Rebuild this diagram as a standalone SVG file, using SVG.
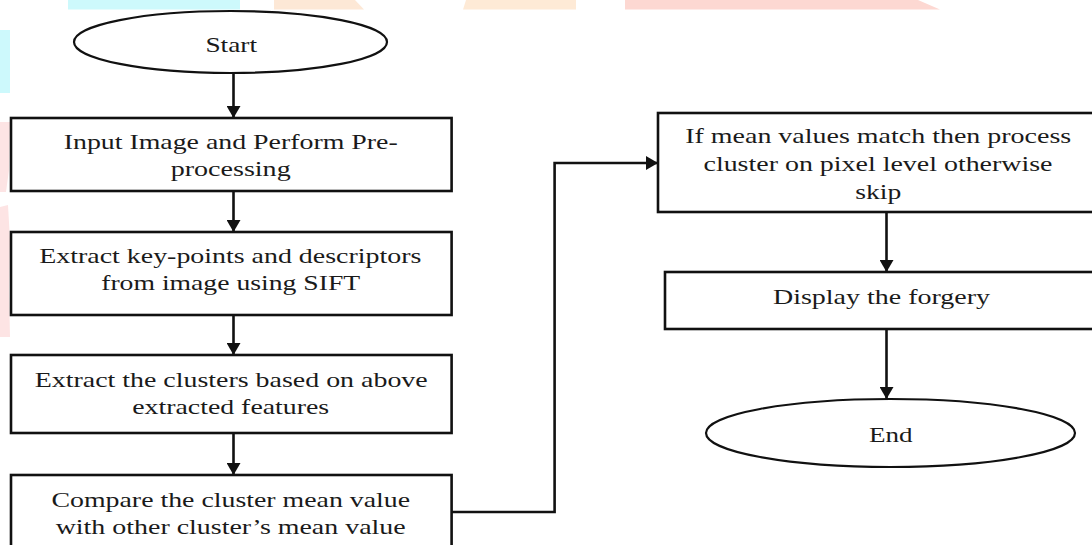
<svg xmlns="http://www.w3.org/2000/svg" width="1092" height="545" viewBox="0 0 1092 545">
  <style>
    .box { fill: #ffffff; stroke: #111111; stroke-width: 2.6; }
    .term { fill: #ffffff; stroke: #111111; stroke-width: 2.2; }
    .lbl { font-family: "Liberation Serif", "Times New Roman", serif; font-size: 21px; fill: #1a1a1a; text-anchor: middle; }
    .conn { fill: none; stroke: #111111; stroke-width: 2.6; }
  </style>
  <defs>
    <marker id="ah" markerUnits="userSpaceOnUse" markerWidth="14" markerHeight="14" refX="12" refY="7" orient="auto">
      <path d="M0,0 L12,7 L0,14 z" fill="#111111"/>
    </marker>
  </defs>
  <rect width="1092" height="545" fill="#ffffff"/>
  <g id="watermark">
    <rect x="68" y="0" width="172" height="9.5" fill="#cdf9fc"/>
    <path d="M274,0 L355,0 L364,9.5 L274,9.5 z" fill="#fde8d6"/>
    <path d="M466,0 L576,0 L576,9.5 L463,9.5 z" fill="#feead6"/>
    <path d="M625,0 L918,0 L940,9.5 L625,9.5 z" fill="#fdd8d2"/>
    <rect x="0" y="30" width="10" height="63" fill="#cdf9fc"/>
    <path d="M0,122 L10,122 L9,170 L6,192 L0,192 z" fill="#fde4e4"/>
    <path d="M0,207 L8,205 L10,240 L9,290 L10,337 L0,337 z" fill="#fde4e4"/>
  </g>
  <g id="connectors">
    <line class="conn" x1="233.5" y1="73" x2="233.5" y2="118" marker-end="url(#ah)"/>
    <line class="conn" x1="233.5" y1="191" x2="233.5" y2="232" marker-end="url(#ah)"/>
    <line class="conn" x1="233.5" y1="315" x2="233.5" y2="355" marker-end="url(#ah)"/>
    <line class="conn" x1="233.5" y1="433" x2="233.5" y2="475" marker-end="url(#ah)"/>
    <polyline class="conn" points="451.6,512 554.6,512 554.6,163 658,163" marker-end="url(#ah)"/>
    <line class="conn" x1="886.5" y1="212" x2="886.5" y2="272" marker-end="url(#ah)"/>
    <line class="conn" x1="886.5" y1="329" x2="886.5" y2="399" marker-end="url(#ah)"/>
  </g>
  <g id="start">
    <ellipse class="term" cx="230.5" cy="42" rx="156.5" ry="31"/>
    <text class="lbl" x="231.2" y="52" textLength="51.6" lengthAdjust="spacingAndGlyphs">Start</text>
  </g>
  <g id="input">
    <rect class="box" x="11" y="118" width="440.6" height="73"/>
    <text class="lbl" x="230.7" y="149" textLength="334" lengthAdjust="spacingAndGlyphs">Input Image and Perform Pre-</text>
    <text class="lbl" x="230.7" y="175.7" textLength="120" lengthAdjust="spacingAndGlyphs">processing</text>
  </g>
  <g id="extract-keypoints">
    <rect class="box" x="11" y="232" width="440.6" height="83"/>
    <text class="lbl" x="230.3" y="263" textLength="382" lengthAdjust="spacingAndGlyphs">Extract key-points and descriptors</text>
    <text class="lbl" x="230.7" y="290.3" textLength="259" lengthAdjust="spacingAndGlyphs">from image using SIFT</text>
  </g>
  <g id="extract-clusters">
    <rect class="box" x="11" y="355" width="440.6" height="78"/>
    <text class="lbl" x="231.2" y="387" textLength="393" lengthAdjust="spacingAndGlyphs">Extract the clusters based on above</text>
    <text class="lbl" x="230.7" y="413.7" textLength="197" lengthAdjust="spacingAndGlyphs">extracted features</text>
  </g>
  <g id="compare">
    <rect class="box" x="11" y="475" width="440.6" height="90"/>
    <text class="lbl" x="230.8" y="507" textLength="358.7" lengthAdjust="spacingAndGlyphs">Compare the cluster mean value</text>
    <text class="lbl" x="230.7" y="533.7" textLength="350" lengthAdjust="spacingAndGlyphs">with other cluster’s mean value</text>
  </g>
  <g id="match">
    <rect class="box" x="658" y="113" width="442" height="99"/>
    <text class="lbl" x="878.2" y="143" textLength="386" lengthAdjust="spacingAndGlyphs">If mean values match then process</text>
    <text class="lbl" x="878" y="170.7" textLength="349" lengthAdjust="spacingAndGlyphs">cluster on pixel level otherwise</text>
    <text class="lbl" x="878.2" y="199" textLength="46" lengthAdjust="spacingAndGlyphs">skip</text>
  </g>
  <g id="display">
    <rect class="box" x="665" y="272" width="435" height="57"/>
    <text class="lbl" x="881.5" y="303.7" textLength="217" lengthAdjust="spacingAndGlyphs">Display the forgery</text>
  </g>
  <g id="end">
    <ellipse class="term" cx="890.5" cy="433" rx="184.5" ry="34"/>
    <text class="lbl" x="890.8" y="442" textLength="43.6" lengthAdjust="spacingAndGlyphs">End</text>
  </g>
</svg>
